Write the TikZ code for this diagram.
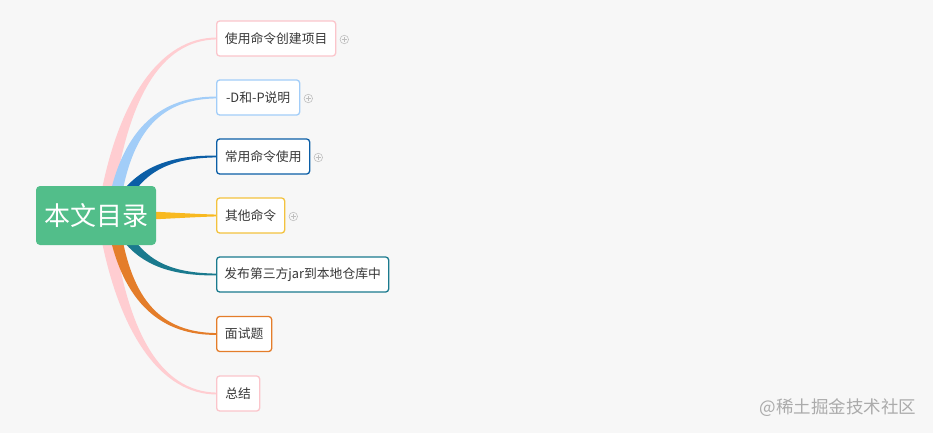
\documentclass[tikz,border=0pt]{standalone}
\usepackage{fontspec}
\setmainfont{Noto Sans CJK SC}
\usetikzlibrary{calc}
\definecolor{bgc}{HTML}{F7F7F7}
\definecolor{cpink}{HTML}{FFCDD1}
\definecolor{cpinkb}{HTML}{FBC5CB}
\definecolor{clblue}{HTML}{A2CDF8}
\definecolor{cdblue}{HTML}{0B5EA6}
\definecolor{cyellow}{HTML}{F8B920}
\definecolor{cyellowb}{HTML}{F3C23E}
\definecolor{cteal}{HTML}{1A7A8E}
\definecolor{corange}{HTML}{E47D2A}
\definecolor{cgreen}{HTML}{52BE8A}
\definecolor{ctext}{HTML}{383838}
\definecolor{cwm}{HTML}{ABABAB}
\pgfdeclarelayer{bglayer}
\pgfdeclarelayer{branchlayer}
\pgfsetlayers{bglayer,branchlayer,main}
\tikzset{
  topic/.style={draw=#1, line width=1.3pt, fill=white, rounded corners=3pt,
    anchor=west, minimum height=35pt, inner sep=0pt, text=ctext,
    font=\fontsize{12.8pt}{14pt}\selectfont},
  rootbox/.style={fill=cgreen, rounded corners=4pt, minimum width=120pt,
    minimum height=59pt, inner sep=0pt, text=white,
    font=\fontsize{26pt}{30pt}\selectfont},
  plusc/.style={circle, draw=black!25, line width=0.6pt, minimum size=8.5pt, inner sep=0pt},
  plusl/.style={draw=black!25, line width=0.6pt}
}
\newcommand\taper[6]{%
  \fill[#1] ($(#2)+(#3)$) .. controls ($(#4)+0.7*(#3)$) and ($(#5)+(0,-1.5)$) ..
    ($(#6.west)+(1,-0.9)$) -- ($(#6.west)+(1,0.9)$) .. controls ($(#5)+(0,1.5)$)
    and ($(#4)-0.7*(#3)$) .. ($(#2)-(#3)$) -- cycle;}
\newcommand\plusmark[2]{%
  \node[plusc] (#1) at ($(#2.east)+(8,1)$) {};
  \draw[plusl] ($(#1.center)+(-2.4,0)$) -- ($(#1.center)+(2.4,0)$)
    ($(#1.center)+(0,-2.4)$) -- ($(#1.center)+(0,2.4)$);}
\begin{document}
\begin{tikzpicture}[x=1pt,y=-1pt]
\begin{pgfonlayer}{bglayer}
\fill[bgc] (0,0) rectangle (933,433);
\end{pgfonlayer}
\useasboundingbox (0,0) rectangle (933,433);

\node[rootbox] (root) at (96,215.5) {本文目录};

\node[topic=cpinkb, minimum width=119pt] (n1) at (216,38.5) {使用命令创建项目};
\node[topic=clblue, minimum width=83pt] (n2) at (216,97.5) {-D和-P说明};
\node[topic=cdblue, minimum width=93pt] (n3) at (216,156.5) {常用命令使用};
\node[topic=cyellowb, minimum width=68pt] (n4) at (216,215.5) {其他命令};
\node[topic=cteal, minimum width=172pt] (n5) at (216,274.5) {发布第三方jar到本地仓库中};
\node[topic=corange, minimum width=55pt] (n6) at (216,334) {面试题};
\node[topic=cpinkb, minimum width=43pt] (n7) at (216,393.5) {总结};

\plusmark{p1}{n1}
\plusmark{p2}{n2}
\plusmark{p3}{n3}
\plusmark{p4}{n4}

\begin{pgfonlayer}{branchlayer}
\taper{cpink}{106,205}{-7,0}{122,100}{160,38.5}{n1}
\taper{cpink}{106,226}{7,0}{122,331}{160,393.5}{n7}
\taper{clblue}{114,205}{-6,-1.5}{127,128}{162,97.5}{n2}
\taper{cdblue}{118,208}{-5,-3}{138,170}{168,156.5}{n3}
\taper{cyellow}{140,215.5}{0,-4.5}{170,215.5}{195,215.5}{n4}
\taper{cteal}{118,223}{5,-3}{138,262}{168,274.5}{n5}
\taper{corange}{114,226}{6,-1.5}{127,303}{162,334}{n6}
\end{pgfonlayer}

\node[text=cwm, font=\fontsize{17.5pt}{20pt}\selectfont] (wm) at (838,408) {@稀土掘金技术社区};
\end{tikzpicture}
\end{document}
